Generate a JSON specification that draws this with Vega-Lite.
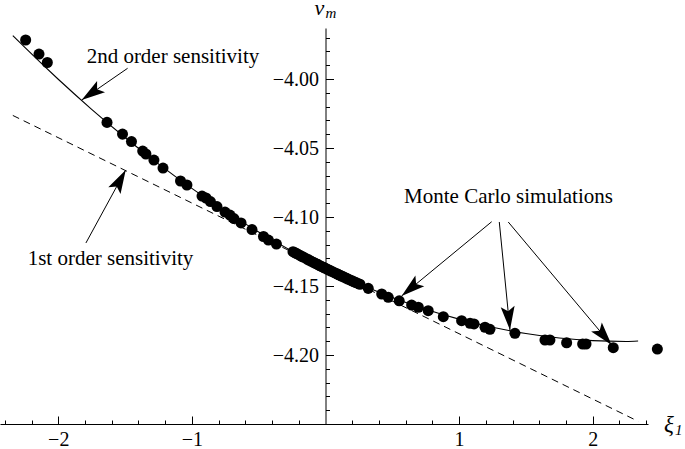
{
  "$schema": "https://vega.github.io/schema/vega-lite/v6.json",
  "width": 648,
  "height": 396,
  "autosize": {"type": "none"},
  "padding": {"left": 0, "top": 28, "right": 37, "bottom": 25},
  "background": "white",
  "config": {
    "view": {"stroke": null},
    "axis": {"domainColor": "black", "tickColor": "black", "labelColor": "black", "labelFont": "Liberation Serif", "labelFontSize": 20, "grid": false, "title": null, "domainWidth": 1, "tickWidth": 1},
    "text": {"font": "Liberation Serif", "color": "black"}
  },
  "datasets": {
    "curve": [
      {"xi": -2.34, "v": -3.96845}, {"xi": -2.25, "v": -3.97708}, {"xi": -2.0, "v": -4.00016}, {"xi": -1.75, "v": -4.02192},
      {"xi": -1.5, "v": -4.04236}, {"xi": -1.25, "v": -4.06147}, {"xi": -1.0, "v": -4.07926}, {"xi": -0.75, "v": -4.09573},
      {"xi": -0.5, "v": -4.11088}, {"xi": -0.25, "v": -4.1247}, {"xi": 0.0, "v": -4.1372}, {"xi": 0.25, "v": -4.14838},
      {"xi": 0.5, "v": -4.15824}, {"xi": 0.75, "v": -4.16677}, {"xi": 1.0, "v": -4.17398}, {"xi": 1.25, "v": -4.17987},
      {"xi": 1.5, "v": -4.18444}, {"xi": 1.75, "v": -4.18768}, {"xi": 2.0, "v": -4.1896}, {"xi": 2.25, "v": -4.1902},
      {"xi": 2.34, "v": -4.18989}
    ],
    "tangent": [{"xi": -2.34, "v": -4.02638}, {"xi": 2.34, "v": -4.24802}],
    "sims": [
      {"xi": -2.244, "v": -3.9717}, {"xi": -2.144, "v": -3.9819}, {"xi": -2.082, "v": -3.988},
      {"xi": -1.635, "v": -4.0314}, {"xi": -1.519, "v": -4.0399}, {"xi": -1.452, "v": -4.0453}, {"xi": -1.368, "v": -4.0522},
      {"xi": -1.344, "v": -4.0543}, {"xi": -1.284, "v": -4.0587}, {"xi": -1.216, "v": -4.0645}, {"xi": -1.085, "v": -4.0739},
      {"xi": -1.037, "v": -4.0768}, {"xi": -0.924, "v": -4.0848}, {"xi": -0.894, "v": -4.0862}, {"xi": -0.861, "v": -4.0888},
      {"xi": -0.812, "v": -4.0924}, {"xi": -0.752, "v": -4.0964}, {"xi": -0.715, "v": -4.0986}, {"xi": -0.685, "v": -4.1011},
      {"xi": -0.632, "v": -4.1043}, {"xi": -0.55, "v": -4.1091}, {"xi": -0.464, "v": -4.1141}, {"xi": -0.427, "v": -4.1167},
      {"xi": -0.367, "v": -4.1196}, {"xi": -0.243, "v": -4.1251}, {"xi": -0.228, "v": -4.1259}, {"xi": -0.213, "v": -4.1266}, {"xi": -0.191, "v": -4.1278},
      {"xi": -0.175, "v": -4.1286}, {"xi": -0.161, "v": -4.1293}, {"xi": -0.138, "v": -4.1305}, {"xi": -0.124, "v": -4.1312}, {"xi": -0.109, "v": -4.1319}, {"xi": -0.094, "v": -4.1327}, {"xi": -0.079, "v": -4.1334},
      {"xi": -0.066, "v": -4.1340}, {"xi": -0.056, "v": -4.1345}, {"xi": -0.041, "v": -4.1353}, {"xi": -0.026, "v": -4.136}, {"xi": -0.015, "v": -4.1365}, {"xi": -0.004, "v": -4.137}, {"xi": 0.011, "v": -4.1377}, {"xi": 0.026, "v": -4.1384},
      {"xi": 0.041, "v": -4.1391}, {"xi": 0.056, "v": -4.1398}, {"xi": 0.071, "v": -4.1405}, {"xi": 0.086, "v": -4.1412}, {"xi": 0.097, "v": -4.1417}, {"xi": 0.109, "v": -4.1422}, {"xi": 0.124, "v": -4.1429}, {"xi": 0.138, "v": -4.1435},
      {"xi": 0.153, "v": -4.1442}, {"xi": 0.168, "v": -4.1449}, {"xi": 0.183, "v": -4.1456}, {"xi": 0.198, "v": -4.1462}, {"xi": 0.213, "v": -4.1469}, {"xi": 0.228, "v": -4.1475}, {"xi": 0.243, "v": -4.1481}, {"xi": 0.258, "v": -4.1487},
      {"xi": 0.32, "v": -4.1517}, {"xi": 0.421, "v": -4.1558}, {"xi": 0.47, "v": -4.1582}, {"xi": 0.552, "v": -4.1607},
      {"xi": 0.645, "v": -4.1638}, {"xi": 0.695, "v": -4.1654}, {"xi": 0.769, "v": -4.1679}, {"xi": 0.882, "v": -4.1722},
      {"xi": 1.019, "v": -4.1751}, {"xi": 1.082, "v": -4.177}, {"xi": 1.112, "v": -4.1775}, {"xi": 1.194, "v": -4.1799},
      {"xi": 1.231, "v": -4.1814}, {"xi": 1.418, "v": -4.1843}, {"xi": 1.643, "v": -4.1891}, {"xi": 1.68, "v": -4.1891},
      {"xi": 1.805, "v": -4.1911}, {"xi": 1.925, "v": -4.192}, {"xi": 1.95, "v": -4.192}, {"xi": 2.154, "v": -4.1947},
      {"xi": 2.484, "v": -4.1957}
    ],
    "arrows": [
      {"x1": -1.481, "y1": -3.9922, "x2": -1.825, "y2": -4.0152},
      {"x1": -1.793, "y1": -4.1188, "x2": -1.495, "y2": -4.0659},
      {"x1": 1.244, "y1": -4.1034, "x2": 0.57, "y2": -4.1572},
      {"x1": 1.301, "y1": -4.1036, "x2": 1.381, "y2": -4.1819},
      {"x1": 1.368, "y1": -4.1036, "x2": 2.142, "y2": -4.1928}
    ],
    "labels": [
      {"label": "2nd order sensitivity", "xi": -1.1415, "v": -3.98862},
      {"label": "1st order sensitivity", "xi": -1.609, "v": -4.13478},
      {"label": "Monte Carlo simulations", "xi": 1.3698, "v": -4.0899}
    ],
    "one": [{"k": 1}]
  },
  "layer": [
    {
      "data": {"name": "curve"},
      "mark": {"type": "line", "color": "black", "strokeWidth": 1.1, "interpolate": "monotone"},
      "encoding": {
        "x": {"field": "xi", "type": "quantitative", "scale": {"domain": [-2.436, 2.414], "nice": false, "zero": false},
              "axis": {"orient": "bottom", "values": [-2, -1, 1, 2], "format": "d", "tickSize": -8, "labelPadding": 13, "labelFlush": false, "labelOverlap": false}},
        "y": {"field": "v", "type": "quantitative", "scale": {"domain": [-4.25, -3.963], "nice": false, "zero": false},
              "axis": {"orient": "left", "offset": -325.5, "values": [-4.2, -4.15, -4.1, -4.05, -4.0], "format": ".2f", "tickSize": -8, "labelPadding": 15, "labelFlush": false, "labelOverlap": false}}
      }
    },
    {
      "data": {"name": "tangent"},
      "mark": {"type": "line", "color": "black", "strokeWidth": 1, "strokeDash": [7, 5]},
      "encoding": {
        "x": {"field": "xi", "type": "quantitative",
              "axis": {"orient": "bottom", "values": [-2.4, -2.2, -1.8, -1.6, -1.4, -1.2, -0.8, -0.6, -0.4, -0.2, 0.2, 0.4, 0.6, 0.8, 1.2, 1.4, 1.6, 1.8, 2.2, 2.4], "tickSize": -4, "labels": false, "domain": false}},
        "y": {"field": "v", "type": "quantitative",
              "axis": {"orient": "left", "offset": -325.5, "values": [-4.24, -4.23, -4.22, -4.21, -4.19, -4.18, -4.17, -4.16, -4.14, -4.13, -4.12, -4.11, -4.09, -4.08, -4.07, -4.06, -4.04, -4.03, -4.02, -4.01, -3.99, -3.98, -3.97], "tickSize": -4, "labels": false, "domain": false}}
      }
    },
    {
      "data": {"name": "sims"},
      "mark": {"type": "point", "shape": "circle", "filled": true, "color": "black", "opacity": 1, "size": 122},
      "encoding": {
        "x": {"field": "xi", "type": "quantitative", "axis": null},
        "y": {"field": "v", "type": "quantitative", "axis": null}
      }
    },
    {
      "data": {"name": "arrows"},
      "mark": {"type": "rule", "color": "black", "strokeWidth": 1},
      "encoding": {
        "x": {"field": "x1", "type": "quantitative", "axis": null},
        "y": {"field": "y1", "type": "quantitative", "axis": null},
        "x2": {"field": "x2"},
        "y2": {"field": "y2"}
      }
    },
    {
      "data": {"name": "arrows"},
      "transform": [{"calculate": "atan2((datum.x2 - datum.x1) * 133.6, (datum.y2 - datum.y1) * 1380) * 180 / PI", "as": "ang"}],
      "mark": {"type": "point", "shape": "M0,0 L-0.65,2.2 L0,1.75 L0.65,2.2 Z", "filled": true, "color": "black", "opacity": 1, "size": 460, "strokeWidth": 0},
      "encoding": {
        "x": {"field": "x2", "type": "quantitative", "axis": null},
        "y": {"field": "y2", "type": "quantitative", "axis": null},
        "angle": {"field": "ang", "type": "quantitative", "scale": null}
      }
    },
    {
      "data": {"name": "labels"},
      "mark": {"type": "text", "fontSize": 21, "align": "center", "baseline": "alphabetic"},
      "encoding": {
        "x": {"field": "xi", "type": "quantitative", "axis": null},
        "y": {"field": "v", "type": "quantitative", "axis": null},
        "text": {"field": "label"}
      }
    },
    {
      "data": {"name": "one"},
      "mark": {"type": "text", "fontSize": 22, "fontStyle": "italic", "align": "left", "baseline": "alphabetic", "dx": -11, "dy": -13},
      "encoding": {"x": {"datum": 0, "type": "quantitative", "axis": null}, "y": {"datum": -3.963, "type": "quantitative", "axis": null}, "text": {"value": "v"}}
    },
    {
      "data": {"name": "one"},
      "mark": {"type": "text", "fontSize": 15, "fontStyle": "italic", "align": "left", "baseline": "alphabetic", "dx": 0, "dy": -10},
      "encoding": {"x": {"datum": 0, "type": "quantitative", "axis": null}, "y": {"datum": -3.963, "type": "quantitative", "axis": null}, "text": {"value": "m"}}
    },
    {
      "data": {"name": "one"},
      "mark": {"type": "text", "fontSize": 23, "fontStyle": "italic", "align": "left", "baseline": "alphabetic", "dx": 16, "dy": 8},
      "encoding": {"x": {"datum": 2.414, "type": "quantitative", "axis": null}, "y": {"datum": -4.25, "type": "quantitative", "axis": null}, "text": {"value": "ξ"}}
    },
    {
      "data": {"name": "one"},
      "mark": {"type": "text", "fontSize": 15, "fontStyle": "italic", "align": "left", "baseline": "alphabetic", "dx": 27, "dy": 11},
      "encoding": {"x": {"datum": 2.414, "type": "quantitative", "axis": null}, "y": {"datum": -4.25, "type": "quantitative", "axis": null}, "text": {"value": "1"}}
    }
  ],
  "resolve": {"axis": {"x": "independent", "y": "independent"}}
}
